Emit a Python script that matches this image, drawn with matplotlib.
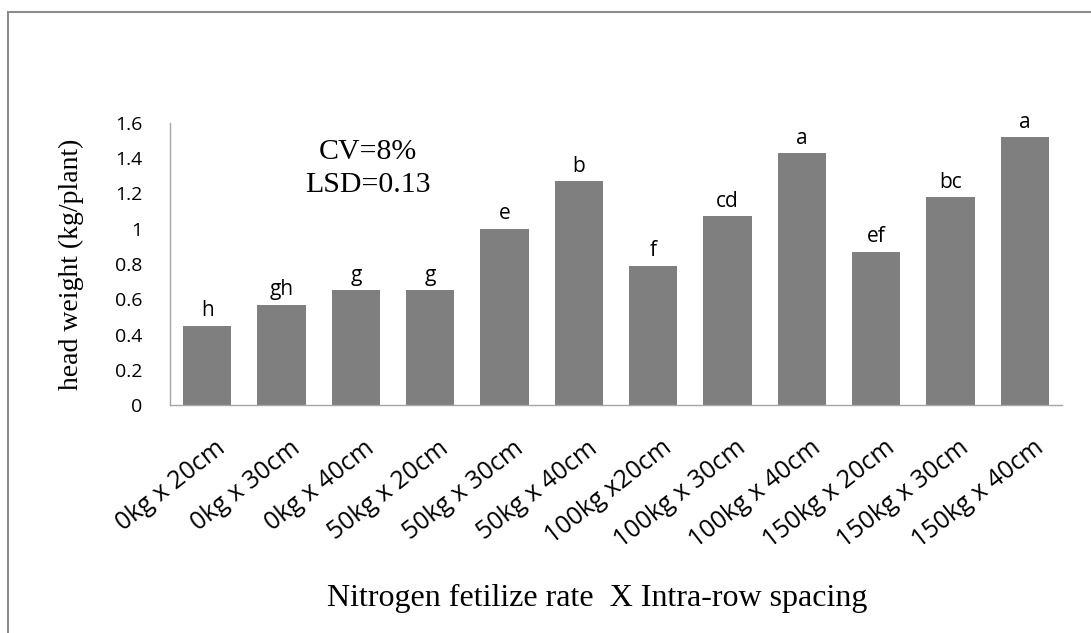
import matplotlib
matplotlib.use("Agg")
import matplotlib.pyplot as plt
from matplotlib.patches import Rectangle
import matplotlib.transforms as mtransforms

categories = ["0kg x 20cm", "0kg x 30cm", "0kg x 40cm", "50kg x 20cm", "50kg x 30cm",
              "50kg x 40cm", "100kg x20cm", "100kg x 30cm", "100kg x 40cm",
              "150kg x 20cm", "150kg x 30cm", "150kg x 40cm"]
values = [0.45, 0.57, 0.65, 0.65, 1.00, 1.27, 0.79, 1.07, 1.43, 0.87, 1.18, 1.52]
letters = ["h", "gh", "g", "g", "e", "b", "f", "cd", "a", "ef", "bc", "a"]
yticks = [0, 0.2, 0.4, 0.6, 0.8, 1, 1.2, 1.4, 1.6]
ytick_labels = ["0", "0.2", "0.4", "0.6", "0.8", "1", "1.2", "1.4", "1.6"]

fig = plt.figure(figsize=(10.91, 6.33), dpi=100)
fig.patches.append(Rectangle((8/1091, -0.1), 1.2, 1 - 12/633 + 0.1, transform=fig.transFigure,
                             fill=False, edgecolor="#8c8c8c", linewidth=1.5))
ax = fig.add_axes([170/1091, 1 - 405/633, (1062 - 170)/1091, (405 - 123)/633])

x = list(range(len(categories)))
ax.bar(x, values, width=0.65, color="#7f7f7f")
for xi, v, l in zip(x, values, letters):
    ax.text(xi, v + 0.025, l, ha="center", va="bottom", fontsize=15, family="Open Sans")

ax.set_xlim(-0.5, len(categories) - 0.5)
ax.set_ylim(0, 1.6)
ax.set_yticks(yticks)
ax.set_yticklabels(ytick_labels, family="Open Sans", fontsize=14)
ax.set_xticks(x)
ax.set_xticklabels(categories, rotation=38, ha="right", rotation_mode="anchor",
                   family="Open Sans", fontsize=18)
ax.tick_params(axis="both", length=0)
ax.tick_params(axis="y", pad=20)
ax.tick_params(axis="x", pad=22)
for s in ["top", "right"]:
    ax.spines[s].set_visible(False)
for s in ["left", "bottom"]:
    ax.spines[s].set_color("#a6a6a6")
    ax.spines[s].set_linewidth(1)

shift = mtransforms.ScaledTranslation(8/100, 0, fig.dpi_scale_trans)
for lab in ax.get_xticklabels():
    lab.set_transform(lab.get_transform() + shift)

ax.set_ylabel("head weight (kg/plant)", family="Liberation Serif", fontsize=20, labelpad=22)
fig.text(597/1091, 1 - 598/633, "Nitrogen fetilize rate  X Intra-row spacing",
         family="Liberation Serif", fontsize=23, ha="center", va="center")
fig.text(368/1091, 1 - 152/633, "CV=8%", family="Liberation Serif", fontsize=21.5,
         ha="center", va="center")
fig.text(368/1091, 1 - 185/633, "LSD=0.13", family="Liberation Serif", fontsize=21.5,
         ha="center", va="center")

fig.savefig("out.png", dpi=100)
